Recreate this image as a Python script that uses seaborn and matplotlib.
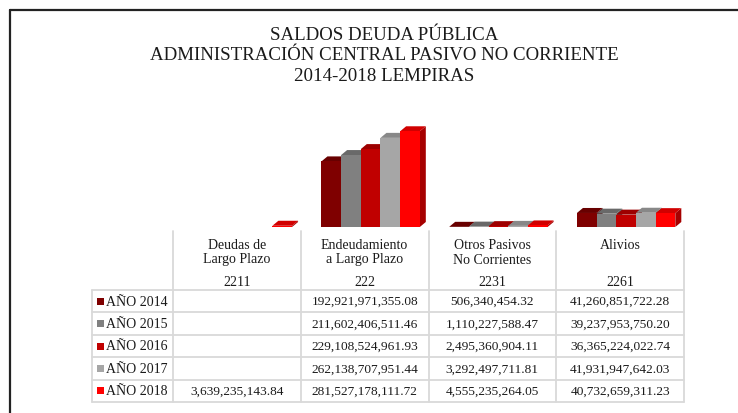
import numpy as np
import pandas as pd
import matplotlib.pyplot as plt
import seaborn as sns
from matplotlib.patches import Polygon, Rectangle
from matplotlib.lines import Line2D

## chart data
categories = ["Deudas de\nLargo Plazo", "Endeudamiento\na Largo Plazo",
              "Otros Pasivos\nNo Corrientes", "Alivios"]
codes = ["2211", "222", "2231", "2261"]
years = ["AÑO 2014", "AÑO 2015", "AÑO 2016", "AÑO 2017", "AÑO 2018"]
colors = ["#7F0000", "#808080", "#C00000", "#A6A6A6", "#FF0000"]

deudas_largo_plazo = [np.nan, np.nan, np.nan, np.nan, 3639235143.84]
endeudamiento = [192921971355.08, 211602406511.46, 229108524961.93,
                 262138707951.44, 281527178111.72]
otros_pasivos = [506340454.32, 1110227588.47, 2495360904.11,
                 3292497711.81, 4555235264.05]
alivios = [41260851722.28, 39237953750.20, 36365224022.74,
           41931947642.03, 40732659311.23]

series = [deudas_largo_plazo, endeudamiento, otros_pasivos, alivios]

rows = []
for cat, vals in zip(categories, series):
    for yr, v in zip(years, vals):
        rows.append({"categoria": cat, "anio": yr, "saldo": v})
df = pd.DataFrame(rows)

## figure in pixel units
W, H = 738, 414
def fx(px):
    return px / W
def fy(py):
    return 1 - py / H

sns.set_style("white")
plt.rcParams["font.family"] = ["Liberation Serif", "DejaVu Serif"]

fig = plt.figure(figsize=(W / 100, H / 100), dpi=100)

## bars
ax_left, ax_right, ax_top, ax_base = 179, 690, 126, 228
ymax = 300e9
ax = fig.add_axes([fx(ax_left), fy(ax_base), (ax_right - ax_left) / W, (ax_base - ax_top) / H])
sns.barplot(data=df, x="categoria", y="saldo", hue="anio", order=categories,
            hue_order=years, palette=colors, saturation=1, width=0.77,
            errorbar=None, legend=False, linewidth=0, ax=ax)
ax.set_xlim(-0.5, len(categories) - 0.5)
ax.set_ylim(0, ymax)
ax.set_axis_off()

# fake 3d depth
dx = 6 * len(categories) / (ax_right - ax_left)
dy = 5 * ymax / (ax_base - ax_top)

def shade(c, f):
    return (c[0] * f, c[1] * f, c[2] * f)

bars = [p for p in ax.patches if np.isfinite(p.get_height()) and p.get_height() > 0]
bars.sort(key=lambda p: p.get_x())
for i, p in enumerate(bars):
    x0, w, h = p.get_x(), p.get_width(), p.get_height()
    c = p.get_facecolor()
    top = Polygon([(x0, h), (x0 + w, h), (x0 + w + dx, h + dy), (x0 + dx, h + dy)],
                  closed=True, facecolor=shade(c, 0.82), edgecolor="none",
                  clip_on=False, zorder=9 + 3 * i)
    side = Polygon([(x0 + w, 0), (x0 + w + dx, dy), (x0 + w + dx, h + dy), (x0 + w, h)],
                   closed=True, facecolor=shade(c, 0.65), edgecolor="none",
                   clip_on=False, zorder=9 + 3 * i)
    ax.add_patch(side)
    ax.add_patch(top)
    p.set_zorder(10 + 3 * i)
    p.set_clip_on(False)

## title
title_lines = ["SALDOS DEUDA PÚBLICA", "ADMINISTRACIÓN CENTRAL PASIVO NO CORRIENTE",
               "2014-2018 LEMPIRAS"]
for k, line in enumerate(title_lines):
    fig.text(fx(384), fy(35 + 21 * k), line, ha="center", va="center",
             fontsize=13.6, color="#1a1a1a")

## data table
grid = "#D9D9D9"
col_w = 127.75
col_edges = [173 + col_w * k for k in range(len(categories) + 1)]
row_h = 22.4
row_edges = [291 + row_h * k for k in range(len(years) + 1)]
leg_left = 92

for xe in col_edges:
    fig.add_artist(Line2D([fx(xe), fx(xe)], [fy(232), fy(row_edges[-1])],
                          color=grid, lw=1.3))
fig.add_artist(Line2D([fx(leg_left), fx(leg_left)], [fy(row_edges[0]), fy(row_edges[-1])],
                      color=grid, lw=1.3))
for ye in row_edges:
    fig.add_artist(Line2D([fx(leg_left), fx(col_edges[-1])], [fy(ye), fy(ye)],
                          color=grid, lw=1.3))

for k, (cat, code) in enumerate(zip(categories, codes)):
    cx = (col_edges[k] + col_edges[k + 1]) / 2
    fig.text(fx(cx), fy(239), cat, ha="center", va="top", fontsize=10,
             linespacing=1.15, color="#1a1a1a")
    fig.text(fx(cx), fy(283), code, ha="center", va="center", fontsize=10,
             color="#1a1a1a")

for r, (yr, col) in enumerate(zip(years, colors)):
    cy = (row_edges[r] + row_edges[r + 1]) / 2
    fig.add_artist(Rectangle((fx(97), fy(cy + 3.5)), 7 / W, 7 / H,
                             facecolor=col, edgecolor="none"))
    fig.text(fx(106), fy(cy), yr, ha="left", va="center", fontsize=10,
             color="#1a1a1a")
    for k, vals in enumerate(series):
        v = vals[r]
        if np.isnan(v):
            continue
        cx = (col_edges[k] + col_edges[k + 1]) / 2
        fig.text(fx(cx), fy(cy), f"{v:,.2f}", ha="center", va="center",
                 fontsize=9.6, color="#1a1a1a")

## chart frame (left and top only visible)
fig.add_artist(Line2D([fx(10), fx(10)], [fy(10.5), 0], color="#222222", lw=1.6))
fig.add_artist(Line2D([fx(10), 1], [fy(10.5), fy(10.5)], color="#222222", lw=1.6))

fig.savefig("out.png", dpi=100, facecolor="white")
